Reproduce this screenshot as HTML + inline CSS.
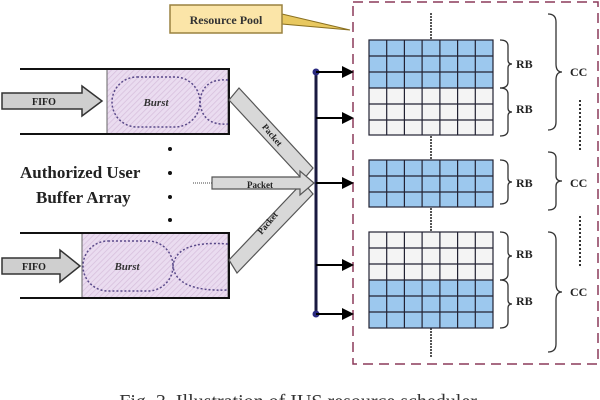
<!DOCTYPE html>
<html><head><meta charset="utf-8"><style>
body{margin:0;background:#fff;width:600px;height:400px;overflow:hidden}
svg{display:block}
text{font-family:"Liberation Serif",serif}
</style></head><body>
<svg width="600" height="400" viewBox="0 0 600 400">
<defs>
<pattern id="hat" width="4" height="4" patternUnits="userSpaceOnUse" patternTransform="rotate(45)">
<rect width="4" height="4" fill="#eadcf0"/><line x1="0" y1="0" x2="0" y2="4" stroke="#d7bfdc" stroke-width="1.5"/></pattern>
<marker id="ah" markerWidth="6" markerHeight="6" refX="5" refY="3" orient="auto"><path d="M0,0 L6,3 L0,6z" fill="#000"/></marker>
</defs>
<polygon points="282,14 350,30 282,24" fill="#e8c860" stroke="#8a7020"/>
<rect x="170" y="5" width="112" height="28" fill="#fbe5a8" stroke="#9a8240" stroke-width="1.5"/>
<text x="226" y="24" font-size="12" font-weight="bold" text-anchor="middle" fill="#333">Resource Pool</text>
<rect x="353" y="2" width="245" height="362" fill="none" stroke="#8b3a5a" stroke-width="1.5" stroke-dasharray="10,6"/>
<line x1="431" y1="13" x2="431" y2="357" stroke="#555" stroke-width="2" stroke-dasharray="2,1"/>
<g>
<rect x="369" y="40" width="124" height="48" fill="#9cc8ee"/>
<rect x="369" y="88" width="124" height="47" fill="#f4f4f4"/>
<rect x="369" y="160" width="124" height="47" fill="#9cc8ee"/>
<rect x="369" y="232" width="124" height="48" fill="#f4f4f4"/>
<rect x="369" y="280" width="124" height="48" fill="#9cc8ee"/>
</g>
<g stroke="#223" stroke-width="1.2" fill="none">
<rect x="369" y="40" width="124" height="95"/>
<rect x="369" y="160" width="124" height="47"/>
<rect x="369" y="232" width="124" height="96"/>
<path d="M369,56H493M369,72H493M369,88H493M369,104H493M369,120H493
M369,176H493M369,192H493
M369,248H493M369,264H493M369,280H493M369,296H493M369,312H493"/>
<path d="M386.7,40V135M404.4,40V135M422.1,40V135M439.9,40V135M457.6,40V135M475.3,40V135
M386.7,160V207M404.4,160V207M422.1,160V207M439.9,160V207M457.6,160V207M475.3,160V207
M386.7,232V328M404.4,232V328M422.1,232V328M439.9,232V328M457.6,232V328M475.3,232V328"/>
</g>
<g stroke="#333" stroke-width="1.3" fill="none">
<path d="M500,40 q8,0 8,6 v14 q0,4 4,4 q-4,0 -4,4 v14 q0,6 -8,6"/>
<path d="M500,88 q8,0 8,6 v14 q0,4 4,4 q-4,0 -4,4 v14 q0,6 -8,6"/>
<path d="M500,160 q8,0 8,6 v12 q0,4 4,4 q-4,0 -4,4 v12 q0,6 -8,6"/>
<path d="M500,232 q8,0 8,6 v14 q0,4 4,4 q-4,0 -4,4 v14 q0,6 -8,6"/>
<path d="M500,280 q8,0 8,6 v14 q0,4 4,4 q-4,0 -4,4 v14 q0,6 -8,6"/>
<path d="M548,14 q8,0 8,8 v42 q0,8 6,8 q-6,0 -6,8 v42 q0,8 -8,8"/>
<path d="M548,152 q8,0 8,6 v18 q0,5 6,5 q-6,0 -6,5 v18 q0,6 -8,6"/>
<path d="M548,232 q8,0 8,8 v44 q0,8 6,8 q-6,0 -6,8 v44 q0,8 -8,8"/>
</g>
<g font-size="12" font-weight="bold" fill="#222">
<text x="516" y="68">RB</text><text x="516" y="113">RB</text><text x="516" y="187">RB</text>
<text x="516" y="258">RB</text><text x="516" y="305">RB</text>
<text x="570" y="76">CC</text><text x="570" y="187">CC</text><text x="570" y="296">CC</text>
</g>
<g stroke="#333" stroke-width="2" stroke-dasharray="2,2"><line x1="580" y1="100" x2="580" y2="152"/><line x1="580" y1="216" x2="580" y2="266"/></g>
<line x1="316" y1="72" x2="316" y2="314" stroke="#1a1a40" stroke-width="3"/>
<circle cx="316" cy="72" r="3.5" fill="#2a2a80"/><circle cx="316" cy="314" r="3.5" fill="#2a2a80"/>
<g stroke="#000" stroke-width="2" marker-end="url(#ah)">
<line x1="316" y1="72" x2="352" y2="72"/><line x1="316" y1="118" x2="352" y2="118"/>
<line x1="316" y1="183" x2="352" y2="183"/><line x1="316" y1="265" x2="352" y2="265"/>
<line x1="316" y1="314" x2="352" y2="314"/></g>
<rect x="107" y="69" width="121" height="65" fill="url(#hat)" stroke="#666"/>
<rect x="82" y="233" width="146" height="65" fill="url(#hat)" stroke="#666"/>
<g stroke="#111" stroke-width="2"><line x1="20" y1="69" x2="230" y2="69"/><line x1="20" y1="134" x2="230" y2="134"/>
<line x1="20" y1="233" x2="230" y2="233"/><line x1="20" y1="298" x2="230" y2="298"/>
<line x1="229" y1="68" x2="229" y2="135"/><line x1="229" y1="232" x2="229" y2="299"/></g>
<g stroke="#5a4a8a" stroke-width="1.5" stroke-dasharray="2,2" fill="none">
<rect x="112" y="77" width="88" height="50" rx="25"/><path d="M228,80 q-26,-2 -28,22 q2,24 28,22"/>
<rect x="83" y="241" width="90" height="50" rx="25"/><path d="M228,244 q-52,-4 -55,22 q3,26 55,24"/>
</g>
<g font-size="11" font-weight="bold" font-style="italic" fill="#333" text-anchor="middle"><text x="156" y="106">Burst</text><text x="127" y="270">Burst</text></g>
<g fill="#cfcfcf" stroke="#333" stroke-width="1.5">
<polygon points="2,93 82,93 82,86 102,101 82,116 82,109 2,109"/>
<polygon points="2,258 60,258 60,250 80,266 60,282 60,274 2,274"/>
</g>
<g font-size="10" font-weight="bold" fill="#222"><text x="32" y="105">FIFO</text><text x="22" y="270">FIFO</text></g>
<g fill="#d8d8d8" stroke="#555" stroke-width="1.2">
<polygon points="229,100 239,88 313,168 303,180"/>
<polygon points="229,260 237,273 313,194 303,182"/>
<polygon points="212,177 300,177 300,171 314,183 300,195 300,189 212,189"/>
</g>
<line x1="193" y1="183" x2="212" y2="183" stroke="#444" stroke-dasharray="1,1"/>
<g font-size="9" font-weight="bold" fill="#222">
<text x="260" y="188" text-anchor="middle">Packet</text>
<text transform="translate(270,137) rotate(50)" text-anchor="middle">Packet</text>
<text transform="translate(270,225) rotate(-50)" text-anchor="middle">Packet</text>
</g>
<g font-size="17" font-weight="bold" fill="#222"><text x="20" y="178">Authorized User</text><text x="36" y="203">Buffer Array</text></g>
<g fill="#111"><circle cx="170" cy="149" r="2"/><circle cx="170" cy="173" r="2"/><circle cx="170" cy="197" r="2"/><circle cx="170" cy="220" r="2"/></g>
<text x="300" y="408" font-size="20" text-anchor="middle" fill="#333">Fig. 3. Illustration of IUS resource scheduler.</text>
</svg>
</body></html>
